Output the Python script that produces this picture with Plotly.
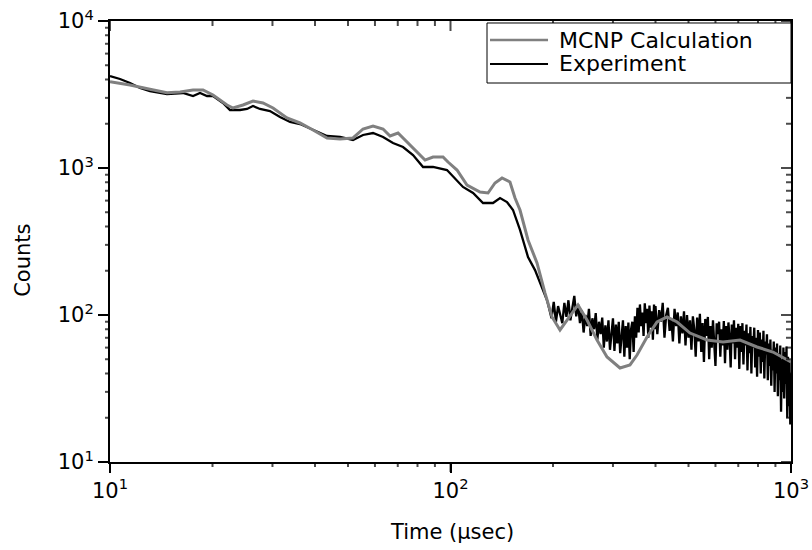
import plotly.graph_objects as go

# ---------------- data ----------------
mcnp_time = [10.0, 11.45, 13.10, 14.70, 16.06, 17.53, 18.76, 20.07, 22.06, 22.97,
             24.58, 26.30, 28.14, 30.11, 33.10, 36.14, 39.47, 43.39, 47.37, 51.72,
             55.35, 59.22, 63.37, 66.44, 70.13, 74.51, 79.73, 84.17, 88.85, 95.07,
             98.33, 104.5, 111.8, 122.1, 128.9, 135.1, 141.7, 149.5, 154.7, 160.0,
             168.9, 179.5, 189.5, 198.7, 209.7, 219.9, 236.8, 251.7, 269.3, 288.2,
             314.6, 336.6, 353.0, 377.7, 404.2, 432.4, 462.8, 505.1, 566.6, 631.4,
             708.6, 794.7, 885.1, 1000.0]
mcnp_counts = [3865, 3669, 3430, 3252, 3289, 3393, 3393, 3138, 2683, 2560,
               2683, 2856, 2768, 2560, 2188, 2024, 1814, 1600, 1575, 1600,
               1842, 1931, 1842, 1651, 1730, 1503, 1265, 1133, 1188, 1188,
               1098, 969, 766, 687, 676, 791, 855, 803, 625, 518,
               324, 226, 141, 96.9, 79.1, 92.5, 117, 92.5, 67.6, 51.8,
               43.6, 45.7, 53.4, 70.9, 89.6, 96.9, 89.6, 75.4, 67.6, 65.5,
               67.6, 60.6, 56.0, 47.9]

# experiment: smooth early part
exp_time_early = [10.0, 10.70, 11.45, 12.25, 13.10, 14.70, 16.38, 17.53, 18.38, 19.27,
                  20.07, 21.47, 22.51, 24.09, 25.26, 26.30, 27.57, 29.50, 31.57, 33.79,
                  36.14, 39.47, 43.39, 47.37, 51.72, 55.35, 59.22, 63.37, 67.78, 72.53,
                  77.61, 83.05, 88.85, 97.65, 108.8, 116.5, 124.6, 133.3, 139.8, 146.5,
                  152.6, 160.0, 168.9, 177.1, 183.2, 192.1]
exp_counts_early = [4225, 4031, 3786, 3501, 3340, 3188, 3238, 3089, 3238, 3089,
                    3089, 2768, 2481, 2481, 2520, 2641, 2520, 2442, 2223, 2056,
                    1992, 1814, 1651, 1625, 1551, 1677, 1730, 1625, 1480, 1390,
                    1226, 1016, 1016, 969, 743, 676, 578, 578, 625, 587,
                    518, 379, 248, 202, 165, 126]
# experiment: noisy tail, channel times (usec)
exp_time_tail = list(range(195, 400, 3)) + list(range(400, 1001, 5))
exp_counts_tail = [
    110, 95, 123, 90, 115, 100, 88, 121, 97, 126,
    92, 112, 135, 98, 118, 88, 108, 76, 100, 84,
    110, 72, 95, 80, 103, 68, 90, 74, 96, 60,
    85, 66, 92, 58, 80, 95, 57, 86, 64, 90,
    55, 78, 92, 52, 84, 60, 89, 50, 80, 90,
    56, 98, 70, 112, 76, 118, 84, 104, 72, 120,
    88, 110, 70, 116, 82, 106, 68, 118, 80,
    115, 74, 108, 90, 121, 70, 100,
    112, 78, 95, 66, 110, 84, 104, 64, 98, 75, 106, 62,
    100, 70, 92, 58, 98, 80, 52, 96, 66, 102, 56, 88, 48, 94, 72, 97, 50, 84, 60,
    92, 66, 45, 88, 74, 90, 52, 80, 62, 91, 47, 84, 58, 89, 70, 44, 86, 64, 92, 50,
    82, 60, 87, 43,
    84, 56, 88, 46, 78, 62, 86, 42, 75, 55, 83, 40, 72, 60, 82, 44, 70, 38, 79, 52,
    76, 40, 68, 48, 78, 37, 66, 54, 74,
    36, 64, 45, 68, 33, 58, 42, 66, 30, 60, 40, 64, 28, 55, 36, 62, 22, 50, 30, 60,
    27, 56, 34, 61,
    20, 52, 24, 48, 18, 40]
assert len(exp_time_tail) == len(exp_counts_tail), (len(exp_time_tail), len(exp_counts_tail))

exp_time = exp_time_early + exp_time_tail
exp_counts = exp_counts_early + exp_counts_tail

x_major = [10, 100, 1000]
x_major_text = ["10<sup>1</sup>", "10<sup>2</sup>", "10<sup>3</sup>"]
y_major = [10, 100, 1000, 10000]
y_major_text = ["10<sup>1</sup>", "10<sup>2</sup>", "10<sup>3</sup>", "10<sup>4</sup>"]
minor_mult = [2, 3, 4, 5, 6, 7, 8, 9]
x_decades = [10, 100]
y_decades = [10, 100, 1000]
legend_names = ["MCNP Calculation", "Experiment"]

x_minor = [m * d for d in x_decades for m in minor_mult]
y_minor = [m * d for d in y_decades for m in minor_mult]

FONT = "DejaVu Sans"
GRAY = "#808080"
MAJOR_LEN = 10   # tick lengths in px
MINOR_LEN = 5
SYMBOL_STRETCH = 1.4  # plotly 'line-ns' symbol length = 1.4 * size

fig = go.Figure()
fig.add_trace(go.Scatter(x=exp_time, y=exp_counts, mode="lines", name=legend_names[1],
                         line=dict(color="black", width=2.3), showlegend=False))
fig.add_trace(go.Scatter(x=mcnp_time, y=mcnp_counts, mode="lines", name=legend_names[0],
                         line=dict(color=GRAY, width=3), showlegend=False))

# frame tick marks on the frame edges (through the axes' own scales);
# standoff shifts each tick so it lies on one side of the frame line
def tick_style(vals, majors, angle):
    lens = [MAJOR_LEN if v in majors else MINOR_LEN for v in vals]
    return dict(symbol="line-ns", size=[L / SYMBOL_STRETCH for L in lens],
                standoff=[L / 2 for L in lens], angle=angle, color="black",
                line=dict(width=2, color="black"))

x_ticks = x_major + x_minor
y_ticks = y_major + y_minor
for y_edge in (y_major[0], y_major[-1]):      # bottom: outward, top: inward
    fig.add_trace(go.Scatter(x=x_ticks, y=[y_edge] * len(x_ticks), mode="markers",
                             cliponaxis=False, hoverinfo="skip", showlegend=False,
                             marker=tick_style(x_ticks, x_major, 0)))
for x_edge in (x_major[0], x_major[-1]):      # left: outward, right: inward
    fig.add_trace(go.Scatter(x=[x_edge] * len(y_ticks), y=y_ticks, mode="markers",
                             cliponaxis=False, hoverinfo="skip", showlegend=False,
                             marker=tick_style(y_ticks, y_major, 90)))

base = dict(type="log", showgrid=False, zeroline=False, tickcolor="black",
            tickwidth=2, tickmode="array", linecolor="black", linewidth=2,
            showline=True, mirror=True, ticks="outside")

fig.update_layout(
    template="none",
    width=812, height=550,
    margin=dict(l=110, r=21, t=21, b=88, autoexpand=False),
    paper_bgcolor="white", plot_bgcolor="white",
    font=dict(family=FONT, size=21, color="black"),
    showlegend=False,
    xaxis=dict(**base, range=[1, 3], tickvals=x_major, ticktext=x_major_text, ticklen=9),
    yaxis=dict(**base, range=[1, 4], tickvals=y_major, ticktext=y_major_text, ticklen=10),
)

# axis titles
fig.add_annotation(text="Time (μsec)", xref="paper", yref="paper", x=0.502, y=-0.1587,
                   xanchor="center", yanchor="middle", showarrow=False,
                   font=dict(family=FONT, size=21))
fig.add_annotation(text="Counts", xref="paper", yref="paper", x=-0.128, y=0.458,
                   xanchor="center", yanchor="middle", textangle=-90, showarrow=False,
                   font=dict(family=FONT, size=21))

# legend box (drawn in paper coordinates)
fig.add_shape(type="rect", xref="paper", yref="paper", x0=0.5536, x1=1.0, y0=0.8594, y1=0.9955,
              line=dict(color="black", width=1), fillcolor="white", layer="above")
fig.add_shape(type="line", xref="paper", yref="paper", x0=0.558, x1=0.6432, y0=0.9569, y1=0.9569,
              line=dict(color=GRAY, width=2.5), layer="above")
fig.add_shape(type="line", xref="paper", yref="paper", x0=0.558, x1=0.6432, y0=0.9025, y1=0.9025,
              line=dict(color="black", width=2), layer="above")
fig.add_annotation(text=legend_names[0], xref="paper", yref="paper", x=0.6564, y=0.9569,
                   xanchor="left", yanchor="middle", showarrow=False,
                   font=dict(family=FONT, size=22))
fig.add_annotation(text=legend_names[1], xref="paper", yref="paper", x=0.6564, y=0.9025,
                   xanchor="left", yanchor="middle", showarrow=False,
                   font=dict(family=FONT, size=22))

fig.write_html("out.html")
